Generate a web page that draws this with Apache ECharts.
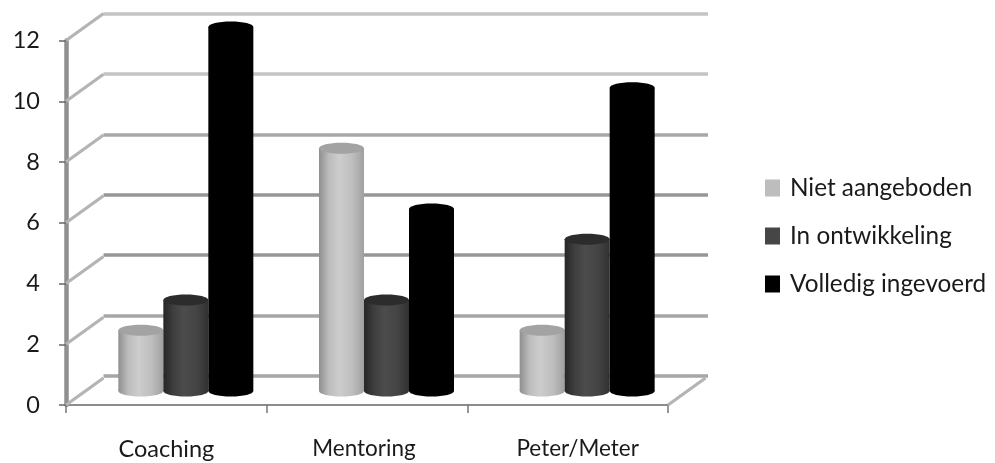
<!DOCTYPE html>
<html><head><meta charset="utf-8">
<style>html,body{margin:0;padding:0;background:#fff}#c{width:995px;height:463px}</style>
<script src="https://cdn.jsdelivr.net/npm/echarts@6/dist/echarts.min.js"></script>
</head><body><div id="c"></div>
<script>
var categories = ['Coaching', 'Mentoring', 'Peter/Meter'];
var nietAangeboden = [2, 8, 2];
var inOntwikkeling = [3, 3, 5];
var volledigIngevoerd = [12, 6, 10];
var yTicks = [0, 2, 4, 6, 8, 10, 12];
var seriesNames = ['Niet aangeboden', 'In ontwikkeling', 'Volledig ingevoerd'];

var G = echarts.graphic.LinearGradient;
var looks = [
  {legend:'#bdbdbd', top:'#a3a3a3', stops:['#8f8f8f','#bcbcbc','#cdcdcd','#bdbdbd','#a0a0a0']},
  {legend:'#464646', top:'#2c2c2c', stops:['#262626','#3e3e3e','#4c4c4c','#444444','#303030']},
  {legend:'#000000', top:'#000000', stops:['#000000','#000000','#000000','#000000','#000000']}
];
var FONT = 'Lato, Carlito, "Open Sans", sans-serif';
var FS = 23.5;
var BAR_W = 45, RY = 5.5;

function cylinder(idx) {
  return function (params, api) {
    var c = api.coord([api.value(0), api.value(1)]);
    var base = api.coord([api.value(0), 0]);
    var cx = c[0] + (idx - 1) * BAR_W;
    var s = looks[idx].stops;
    var fill = new G(0, 0, 1, 0, [
      {offset:0, color:s[0]},{offset:.22, color:s[1]},{offset:.45, color:s[2]},
      {offset:.75, color:s[3]},{offset:1, color:s[4]}]);
    return {type:'group', children:[
      {type:'ellipse', shape:{cx:cx, cy:base[1], rx:BAR_W/2, ry:RY}, style:{fill:fill}},
      {type:'rect', shape:{x:cx-BAR_W/2, y:c[1], width:BAR_W, height:base[1]-c[1]}, style:{fill:fill}},
      {type:'ellipse', shape:{cx:cx, cy:c[1], rx:BAR_W/2, ry:RY}, style:{fill:looks[idx].top}}
    ]};
  };
}
function cylSeries(idx, values) {
  return {
    name: seriesNames[idx], type:'custom', xAxisIndex:2, yAxisIndex:2, z:5+idx,
    itemStyle:{color:looks[idx].legend},
    renderItem: cylinder(idx), silent:true,
    encode:{x:0,y:1},
    data: values.map(function(v,i){return [i,v];})
  };
}
var DX = 37.5, DY = -27;
function wallSeries(data) {
  return {
    type:'custom', xAxisIndex:0, yAxisIndex:0, z:1, silent:true,
    encode:{x:0,y:1},
    renderItem:function(params, api){
      var r = params.coordSys;
      var y = api.coord([0, api.value(1)])[1];
      var x = api.value(0) === 0 ? r.x : r.x + r.width;
      return {type:'line', shape:{x1:x, y1:y, x2:x+DX, y2:y+DY},
        style:{stroke:'#b4b4b4', lineWidth:3.2}};
    },
    data:data
  };
}
var wall = yTicks.map(function(v){return [0,v];}).concat([[2,0]]);

var chart = echarts.init(document.getElementById('c'), null, {renderer:'canvas'});
var catRich = {
  c0:{fontFamily:FONT, fontSize:FS, color:'#1a1a1a'},
  c1:{fontFamily:FONT, fontSize:22.5, color:'#1a1a1a', padding:[0,6,0,0]},
  c2:{fontFamily:FONT, fontSize:22.5, color:'#1a1a1a', padding:[0,0,0,20]}
};
chart.setOption({
  animation:false,
  backgroundColor:'#fff',
  legend:{
    data:seriesNames, orient:'vertical', left:765, top:173.5, padding:0,
    icon:'rect', itemWidth:15, itemHeight:17, itemGap:19, selectedMode:false,
    textStyle:{fontFamily:FONT, fontSize:24.3, color:'#1a1a1a', padding:[12,0,0,5], lineHeight:17, height:17}
  },
  grid:[
    {left:66, top:40.5, width:602, height:364.5},
    {left:103.5, top:13.5, width:604.5, height:362.5},
    {left:85.5, top:27, width:602, height:364}
  ],
  xAxis:[
    {gridIndex:0, type:'category', data:categories, boundaryGap:true,
     axisLine:{lineStyle:{color:'#8c8c8c', width:2}},
     axisTick:{show:true, length:8, interval:0, lineStyle:{color:'#777', width:1.5}},
     axisLabel:{interval:0, hideOverlap:false, fontFamily:FONT, fontSize:FS, color:'#1a1a1a', margin:32, rich:catRich,
       formatter:function(v){ return '{c'+categories.indexOf(v)+'|'+v+'}'; }},
     splitLine:{show:false}},
    {gridIndex:1, type:'category', data:categories, show:false},
    {gridIndex:2, type:'category', data:categories, show:false}
  ],
  yAxis:[
    {gridIndex:0, type:'value', min:0, max:12, interval:2,
     axisLine:{show:true, lineStyle:{color:'#8f8f8f', width:4.5}},
     axisTick:{show:true, length:7, lineStyle:{color:'#666', width:1.5}},
     axisLabel:{fontFamily:FONT, fontSize:FS, color:'#1a1a1a', margin:26}, splitLine:{show:false}},
    {gridIndex:1, type:'value', min:0, max:12, interval:2,
     axisLine:{show:false}, axisTick:{show:false}, axisLabel:{show:false},
     splitLine:{show:true, lineStyle:{width:3.5,
       color:['#a6a6a6','#a6a6a6','#969696','#969696','#a8a8a8','#c4c4c4','#c4c4c4']}}},
    {gridIndex:2, type:'value', min:0, max:12, interval:2, show:false}
  ],
  series:[
    wallSeries(wall),
    cylSeries(0, nietAangeboden),
    cylSeries(1, inOntwikkeling),
    cylSeries(2, volledigIngevoerd)
  ]
});
</script></body></html>
